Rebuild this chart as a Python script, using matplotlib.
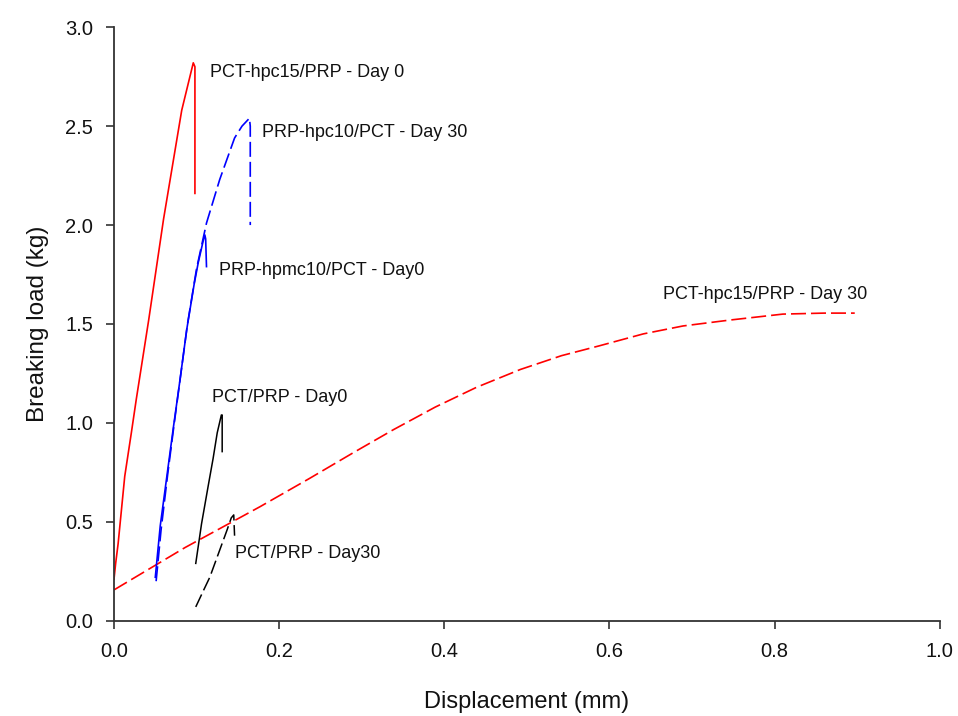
import numpy as np
import matplotlib
matplotlib.use('Agg')
import matplotlib.pyplot as plt

plt.rcParams['font.family'] = ['Liberation Sans', 'DejaVu Sans']

# PCT-hpc15/PRP - Day 0 (red solid)
red0_x = [0.0, 0.002, 0.005, 0.013, 0.021, 0.027, 0.042, 0.060, 0.068, 0.082, 0.096, 0.098, 0.098]
red0_y = [0.21, 0.29, 0.39, 0.73, 0.95, 1.12, 1.52, 2.03, 2.23, 2.58, 2.82, 2.80, 2.16]

# PCT-hpc15/PRP - Day 30 (red dashed)
red30_x = [0.0, 0.086, 0.177, 0.237, 0.290, 0.338, 0.389, 0.439, 0.492, 0.542, 0.588,
           0.641, 0.689, 0.746, 0.810, 0.860, 0.897]
red30_y = [0.156, 0.37, 0.577, 0.72, 0.85, 0.965, 1.08, 1.18, 1.27, 1.34, 1.39,
           1.45, 1.49, 1.52, 1.55, 1.555, 1.555]

# PRP-hpmc10/PCT - Day 0 (blue solid)
blue0_x = [0.050, 0.056, 0.064, 0.072, 0.080, 0.088, 0.097, 0.102, 0.108, 0.110, 0.111, 0.112]
blue0_y = [0.22, 0.48, 0.73, 0.98, 1.22, 1.47, 1.70, 1.81, 1.92, 1.95, 1.93, 1.79]

# PRP-hpc10/PCT - Day 30 (blue dashed)
blue30_x = [0.051, 0.057, 0.065, 0.073, 0.081, 0.089, 0.100, 0.112, 0.128, 0.146, 0.155,
            0.164, 0.165, 0.165]
blue30_y = [0.20, 0.46, 0.74, 1.00, 1.25, 1.50, 1.78, 2.01, 2.23, 2.44, 2.50,
            2.54, 2.50, 2.00]

# PCT/PRP - Day 0 (black solid)
blk0_x = [0.099, 0.106, 0.114, 0.120, 0.125, 0.130, 0.131, 0.131]
blk0_y = [0.29, 0.49, 0.68, 0.82, 0.95, 1.04, 1.04, 0.855]

# PCT/PRP - Day 30 (black dashed)
blk30_x = [0.099, 0.108, 0.116, 0.123, 0.130, 0.137, 0.142, 0.145, 0.146]
blk30_y = [0.07, 0.15, 0.22, 0.30, 0.38, 0.46, 0.52, 0.535, 0.43]

labels = ['PCT-hpc15/PRP - Day 0', 'PRP-hpc10/PCT - Day 30', 'PRP-hpmc10/PCT - Day0',
          'PCT-hpc15/PRP - Day 30', 'PCT/PRP - Day0', 'PCT/PRP - Day30']
label_x = [0.116, 0.179, 0.127, 0.665, 0.119, 0.146]
label_y = [2.77, 2.47, 1.77, 1.65, 1.13, 0.34]

fig = plt.figure(figsize=(9.58, 7.16), dpi=100)
ax = fig.add_axes([0.119, 0.133, 0.862, 0.829])

dash = (0, (9, 3))
ax.plot(red30_x, red30_y, color='#ff0000', lw=1.2, linestyle=dash)
ax.plot(red0_x, red0_y, color='#ff0000', lw=1.2)
ax.plot(blue30_x, blue30_y, color='#0000ff', lw=1.2, linestyle=dash)
ax.plot(blue0_x, blue0_y, color='#0000ff', lw=1.2)
ax.plot(blk0_x, blk0_y, color='black', lw=1.1)
ax.plot(blk30_x, blk30_y, color='black', lw=1.1, linestyle=dash)

for t, x, y in zip(labels, label_x, label_y):
    ax.text(x, y, t, fontsize=13, va='center', ha='left', color='#111111')

ax.set_xlim(0, 1.0)
ax.set_ylim(0, 3.0)
ax.set_xticks(np.arange(0, 1.01, 0.2))
ax.set_yticks(np.arange(0, 3.01, 0.5))
ax.xaxis.set_major_formatter(matplotlib.ticker.FormatStrFormatter('%.1f'))
ax.yaxis.set_major_formatter(matplotlib.ticker.FormatStrFormatter('%.1f'))
ax.spines['top'].set_visible(False)
ax.spines['right'].set_visible(False)
for s in ['left', 'bottom']:
    ax.spines[s].set_color('#333333')
    ax.spines[s].set_linewidth(1.3)
ax.tick_params(direction='out', length=6, width=1.2, colors='#333333', labelsize=14.5,
               labelcolor='#111111', pad=9)
ax.set_xlabel('Displacement (mm)', fontsize=17, labelpad=22, color='#111111')
ax.set_ylabel('Breaking load (kg)', fontsize=17.5, labelpad=12, color='#111111')

fig.savefig('out.png', dpi=100)
plt.close()
